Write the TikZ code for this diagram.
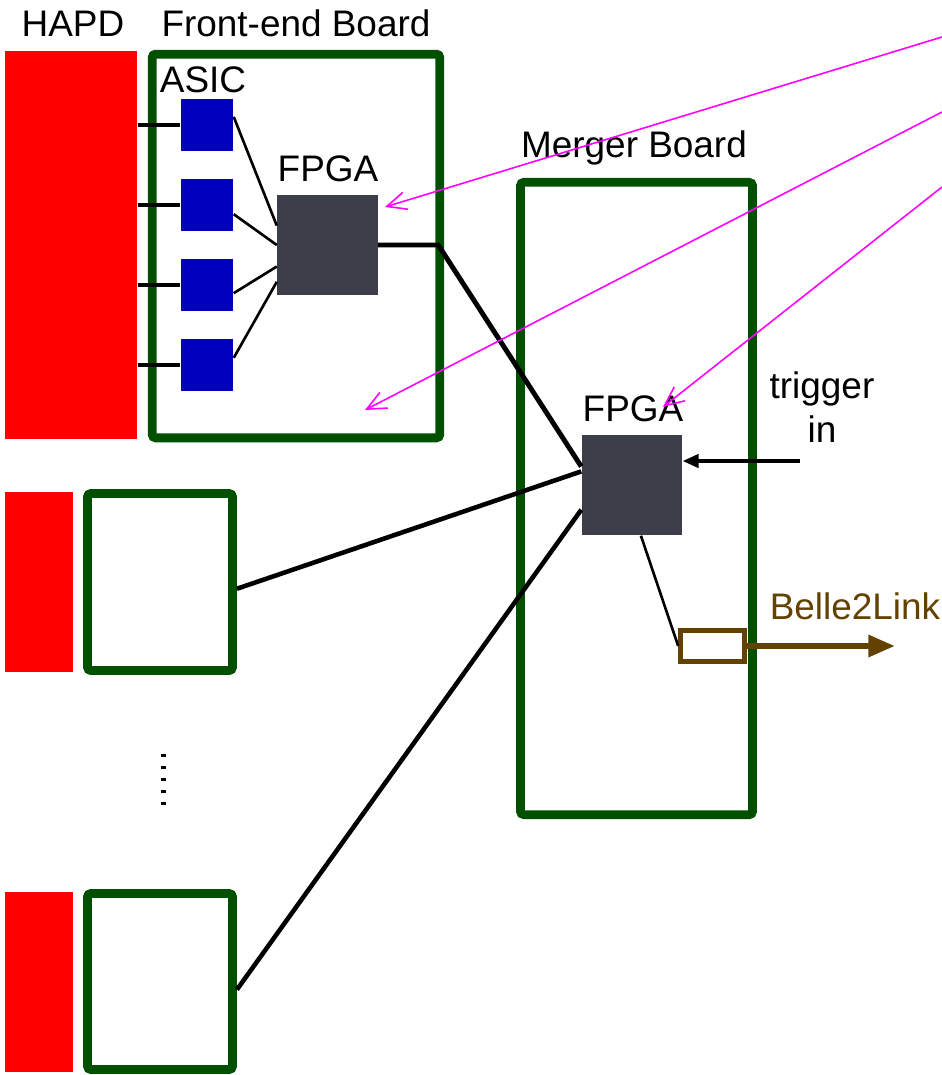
\documentclass[tikz,border=0pt]{standalone}
\usepackage{fontspec}
\setmainfont{Liberation Sans}
\usetikzlibrary{arrows.meta,positioning,calc}
\definecolor{hapdred}{RGB}{255,0,0}
\definecolor{brdgreen}{RGB}{0,80,0}
\definecolor{asicblue}{RGB}{0,0,190}
\definecolor{fpgagray}{RGB}{60,63,74}
\definecolor{lnkbrown}{RGB}{99,66,0}
\definecolor{notemag}{RGB}{255,0,255}

\begin{document}
\begin{tikzpicture}[x=0.01cm,y=-0.01cm,font=\fontsize{10.5}{12.5}\selectfont,
  hapd/.style={fill=hapdred,inner sep=0pt},
  brd/.style={draw=brdgreen,line width=2.5pt,rounded corners=1pt,fill=white,inner sep=0pt},
  asic/.style={fill=asicblue,minimum size=0.52cm,inner sep=0pt},
  fpga/.style={fill=fpgagray,minimum size=1cm,inner sep=0pt},
  lbl/.style={anchor=base,inner sep=0pt},
  note/.style={draw=notemag,line width=0.45pt,-{Straight Barb[length=5.5pt,width=5pt]}}]
  \useasboundingbox (0,0) rectangle (942,1075);
  % sensors and boards
  \node[hapd,minimum width=1.32cm,minimum height=3.88cm] (hapd) at (71,245) {};
  \node[hapd,minimum width=0.68cm,minimum height=1.8cm] (hapd1) at (39,582) {};
  \node[hapd,minimum width=0.68cm,minimum height=1.8cm] (hapd2) at (39,982) {};
  \node[brd,minimum width=2.875cm,minimum height=3.835cm] (feb) at (296,246) {};
  \node[brd,minimum width=1.45cm,minimum height=1.77cm] (b1) at (160,582) {};
  \node[brd,minimum width=1.45cm,minimum height=1.76cm] (b2) at (160,981.5) {};
  \node[brd,minimum width=2.32cm,minimum height=6.32cm] (mrg) at (636.5,498.5) {};
  \node[lbl] (thapd) at (73,36) {HAPD};
  \node[lbl] (tfeb) at (296,36) {Front-end Board};
  \node[lbl] (tasic) at (203,92) {ASIC};
  \node[lbl] (tmrg) at (634,157) {Merger Board};
  % chips
  \foreach \i/\y in {1/125,2/205,3/285,4/365} {
    \node[asic] (a\i) at (207,\y) {};
    \draw[line width=0.95pt] (a\i.west -| hapd.east) -- (a\i.west);
  }
  \node[fpga] (f1) at (327.5,245) {};
  \node[lbl] (tf1) at (328,181) {FPGA};
  \node[fpga] (f2) at (632,485) {};
  \node[lbl] (tf2) at (633,421) {FPGA};
  \draw[line width=0.75pt] (a1.17) -- (f1.159);
  \draw[line width=0.75pt] (a2.-19) -- (f1.180);
  \draw[line width=0.75pt] (a3.-17) -- (f1.203);
  \draw[line width=0.75pt] (a4.15) -- (f1.216);
  % links to merger
  \draw[line width=1.4pt] (f1.east) -- ++(60,0) -- (f2.160);
  \draw[line width=1.3pt] (b1.-5) -- (f2.165);
  \draw[line width=1.3pt] (b2.-6) -- (f2.206);
  \foreach \i in {0,...,4} \fill (161,754+12*\i) rectangle ++(5,3);
  % trigger and Belle2Link
  \coordinate (trg) at (800,461);
  \node[align=center,inner sep=0pt] (ttrg) at (822,407) {trigger\\in};
  \draw[line width=0.95pt,-{Triangle[length=4.5pt,width=3.8pt]}] (trg) -- (trg -| f2.east);
  \node[draw=lnkbrown,line width=1.3pt,fill=white,minimum width=0.64cm,minimum height=0.305cm,inner sep=0pt] (lnk) at (712.5,646) {};
  \draw[line width=0.75pt] (f2.-80) -- (lnk.west);
  \coordinate (b2l) at (895,646);
  \draw[lnkbrown,line width=1.7pt,-{Triangle[length=7.6pt,width=6pt]}] (lnk.east) -- (b2l);
  \node[lbl,text=lnkbrown] (tb2l) at (855,619) {Belle2Link};
  % pointers
  \coordinate (m1) at (942,37);
  \coordinate (m2) at (942,112);
  \coordinate (m3) at (942,187);
  \coordinate (e1) at (385,207);
  \coordinate (e2) at (365,410);
  \coordinate (e3) at (663,407);
  \draw[note] (m1) -- (e1);
  \draw[note] (m2) -- (e2);
  \draw[note] (m3) -- (e3);
\end{tikzpicture}
\end{document}
